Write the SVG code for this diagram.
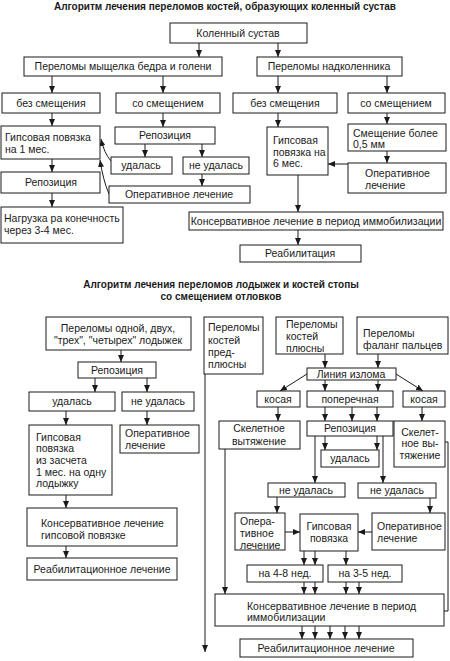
<svg xmlns="http://www.w3.org/2000/svg" width="450" height="661" viewBox="0 0 450 661">
<defs>
<marker id="ah" markerUnits="userSpaceOnUse" markerWidth="7" markerHeight="6" refX="7" refY="3" orient="auto"><path d="M0,0 L7,3 L0,6 z" fill="#1a1a1a"/></marker>
<style>
rect{fill:#fff;stroke:#1a1a1a;stroke-width:1}
text{font-family:"Liberation Sans",Arial,sans-serif;font-size:10.5px;fill:#1a1a1a}
.c{text-anchor:middle}
.t{font-weight:bold;font-size:10px;text-anchor:middle}
#conn line,#conn path{stroke:#1a1a1a;stroke-width:1;fill:none}
.a{marker-end:url(#ah)}
</style>
</defs>
<rect width="450" height="661" style="fill:#fff;stroke:none"/>
<text class="t" x="225" y="10">Алгоритм лечения переломов костей, образующих коленный сустав</text>
<text class="t" x="221" y="288">Алгоритм лечения переломов лодыжек и костей стопы</text>
<text class="t" x="221" y="300">со смещением отловков</text>

<g id="conn">
<line class="a" x1="199" y1="43" x2="199" y2="57"/>
<line class="a" x1="278" y1="43" x2="278" y2="57"/>
<line class="a" x1="52" y1="76" x2="52" y2="93"/>
<line class="a" x1="163" y1="76" x2="163" y2="93"/>
<line class="a" x1="278" y1="76" x2="278" y2="93"/>
<line class="a" x1="387" y1="76" x2="387" y2="93"/>
<line class="a" x1="52" y1="113" x2="52" y2="126"/>
<line class="a" x1="163" y1="113" x2="163" y2="127"/>
<line class="a" x1="278" y1="113" x2="278" y2="127"/>
<line class="a" x1="387" y1="113" x2="387" y2="124"/>
<line class="a" x1="145" y1="144" x2="145" y2="157"/>
<line class="a" x1="202" y1="144" x2="202" y2="157"/>
<line class="a" x1="202" y1="174" x2="202" y2="186"/>
<line class="a" x1="52" y1="159" x2="52" y2="172"/>
<line class="a" x1="52" y1="193" x2="52" y2="207"/>
<line class="a" x1="387" y1="151" x2="387" y2="163"/>
<line class="a" x1="348" y1="164" x2="328" y2="164"/>
<line class="a" x1="298" y1="175" x2="298" y2="212"/>
<line class="a" x1="298" y1="230" x2="298" y2="245"/>
<path class="a" d="M111,161 Q104,153 101,139"/>
<path class="a" d="M109,194 Q103,180 100,160"/>

<line class="a" x1="121" y1="350" x2="121" y2="362"/>
<line class="a" x1="95" y1="378" x2="95" y2="392"/>
<line class="a" x1="147" y1="378" x2="147" y2="392"/>
<line class="a" x1="66" y1="411" x2="66" y2="425"/>
<line class="a" x1="147" y1="411" x2="147" y2="425"/>
<line class="a" x1="66" y1="495" x2="66" y2="508"/>
<line class="a" x1="66" y1="546" x2="66" y2="558"/>

<line class="a" x1="205" y1="374" x2="205" y2="652"/>
<line class="a" x1="325" y1="354" x2="325" y2="368"/>
<line class="a" x1="378" y1="354" x2="378" y2="368"/>
<line class="a" x1="307" y1="374" x2="280" y2="391"/>
<line class="a" x1="396" y1="374" x2="423" y2="391"/>
<line class="a" x1="325" y1="380" x2="325" y2="391"/>
<line class="a" x1="378" y1="380" x2="378" y2="391"/>
<line class="a" x1="278" y1="407" x2="278" y2="421"/>
<line class="a" x1="325" y1="407" x2="325" y2="421"/>
<line class="a" x1="352" y1="407" x2="352" y2="421"/>
<line class="a" x1="377" y1="407" x2="377" y2="421"/>
<line class="a" x1="422" y1="407" x2="422" y2="421"/>
<line class="a" x1="325" y1="436" x2="325" y2="450"/>
<line class="a" x1="377" y1="436" x2="377" y2="450"/>
<line class="a" x1="315" y1="436" x2="315" y2="483"/>
<line class="a" x1="383" y1="436" x2="383" y2="483"/>
<line class="a" x1="277" y1="497" x2="277" y2="513"/>
<line class="a" x1="430" y1="498" x2="430" y2="513"/>
<line class="a" x1="285" y1="532" x2="300" y2="532"/>
<line class="a" x1="372" y1="532" x2="358" y2="532"/>
<line class="a" x1="304" y1="551" x2="304" y2="565"/>
<line class="a" x1="315" y1="551" x2="315" y2="565"/>
<line class="a" x1="346" y1="551" x2="346" y2="565"/>
<line class="a" x1="304" y1="582" x2="304" y2="594"/>
<line class="a" x1="315" y1="582" x2="315" y2="594"/>
<line class="a" x1="346" y1="582" x2="346" y2="594"/>
<line class="a" x1="359" y1="582" x2="359" y2="594"/>
<line class="a" x1="225" y1="449" x2="225" y2="594"/>
<path d="M445,442 H448 V611 H444"/>
<line class="a" x1="302" y1="626" x2="302" y2="639"/>
<line class="a" x1="315" y1="626" x2="315" y2="639"/>
<line class="a" x1="330" y1="626" x2="330" y2="639"/>
<line class="a" x1="345" y1="626" x2="345" y2="639"/>
<line class="a" x1="359" y1="626" x2="359" y2="639"/>
</g>

<g id="n1"><rect x="170" y="23" width="137" height="20"/><text class="c" x="238" y="37">Коленный сустав</text></g>
<g id="n2"><rect x="24" y="57" width="198" height="19"/><text class="c" x="123" y="70">Переломы мыщелка бедра и голени</text></g>
<g id="n3"><rect x="257" y="57" width="145" height="19"/><text class="c" x="329" y="70">Переломы надколенника</text></g>
<g id="n4"><rect x="2" y="93" width="98" height="20"/><text class="c" x="51" y="107">без смещения</text></g>
<g id="n5"><rect x="116" y="93" width="104" height="20"/><text class="c" x="168" y="107">со смещением</text></g>
<g id="n6"><rect x="233" y="93" width="104" height="20"/><text class="c" x="285" y="107">без смещения</text></g>
<g id="n7"><rect x="348" y="93" width="97" height="20"/><text class="c" x="396" y="107">со смещением</text></g>
<g id="n8"><rect x="1" y="126" width="99" height="33"/><text x="5" y="141">Гипсовая повязка</text><text x="5" y="153">на 1 мес.</text></g>
<g id="n9"><rect x="115" y="127" width="100" height="17"/><text class="c" x="165" y="139">Репозиция</text></g>
<g id="n10"><rect x="111" y="157" width="61" height="17"/><text class="c" x="141" y="169">удалась</text></g>
<g id="n11"><rect x="183" y="157" width="66" height="17"/><text class="c" x="216" y="169">не удалась</text></g>
<g id="n12"><rect x="109" y="186" width="141" height="17"/><text class="c" x="179" y="198">Оперативное лечение</text></g>
<g id="n13"><rect x="1" y="172" width="99" height="21"/><text class="c" x="51" y="186">Репозиция</text></g>
<g id="n14"><rect x="1" y="207" width="122" height="36"/><text x="4" y="222">Нагрузка ра конечность</text><text x="4" y="234">через 3-4 мес.</text></g>
<g id="n15"><rect x="267" y="127" width="61" height="48"/><text x="273" y="144">Гипсовая</text><text x="273" y="156">повязка на</text><text x="273" y="167">6 мес.</text></g>
<g id="n16"><rect x="348" y="124" width="98" height="27"/><text x="353" y="137">Смещение более</text><text x="353" y="148">0,5 мм</text></g>
<g id="n17"><rect x="348" y="163" width="98" height="30"/><text x="365" y="177">Оперативное</text><text x="365" y="189">лечение</text></g>
<g id="n18"><rect x="189" y="212" width="254" height="18"/><text class="c" x="316" y="225">Консервативное лечение в период иммобилизации</text></g>
<g id="n19"><rect x="240" y="245" width="121" height="17"/><text class="c" x="300" y="257">Реабилитация</text></g>

<g id="m1"><rect x="46" y="317" width="145" height="33"/><text class="c" x="118" y="332">Переломы одной, двух,</text><text class="c" x="118" y="344">"трех", "четырех" лодыжек</text></g>
<g id="m2"><rect x="78" y="362" width="78" height="16"/><text class="c" x="117" y="374">Репозиция</text></g>
<g id="m3"><rect x="29" y="392" width="86" height="19"/><text class="c" x="72" y="405">удалась</text></g>
<g id="m4"><rect x="122" y="392" width="72" height="19"/><text class="c" x="158" y="405">не удалась</text></g>
<g id="m5"><rect x="29" y="425" width="83" height="70"/><text x="36" y="441">Гипсовая</text><text x="36" y="452">повязка</text><text x="36" y="464">из засчета</text><text x="36" y="476">1 мес. на одну</text><text x="36" y="487">лодыжку</text></g>
<g id="m6"><rect x="120" y="425" width="79" height="28"/><text x="125" y="437">Оперативное</text><text x="125" y="449">лечение</text></g>
<g id="m7"><rect x="27" y="508" width="150" height="38"/><text x="41" y="527">Консервативное лечение</text><text x="41" y="539">гипсовой повязке</text></g>
<g id="m8"><rect x="27" y="558" width="150" height="22"/><text class="c" x="102" y="573">Реабилитационное лечение</text></g>

<g id="f1"><rect x="204" y="317" width="59" height="57"/><text x="208" y="331">Переломы</text><text x="208" y="344">костей</text><text x="208" y="356">пред-</text><text x="208" y="368">плюсны</text></g>
<g id="f2"><rect x="276" y="317" width="67" height="37"/><text x="286" y="328">Переломы</text><text x="286" y="340">костей</text><text x="286" y="352">плюсны</text></g>
<g id="f3"><rect x="357" y="317" width="91" height="37"/><text x="363" y="337">Переломы</text><text x="363" y="349">фаланг пальцев</text></g>
<g id="f4"><rect x="307" y="368" width="89" height="12"/><text class="c" x="351" y="378">Линия излома</text></g>
<g id="f5"><rect x="257" y="391" width="43" height="16"/><text class="c" x="278" y="403">косая</text></g>
<g id="f6"><rect x="307" y="391" width="86" height="16"/><text class="c" x="350" y="403">поперечная</text></g>
<g id="f7"><rect x="403" y="391" width="42" height="16"/><text class="c" x="424" y="403">косая</text></g>
<g id="f8"><rect x="219" y="421" width="81" height="28"/><text class="c" x="259" y="432">Скелетное</text><text class="c" x="259" y="445">вытяжение</text></g>
<g id="f9"><rect x="307" y="421" width="86" height="15"/><text class="c" x="350" y="432">Репозиция</text></g>
<g id="f10"><rect x="394" y="421" width="51" height="46"/><text class="c" x="420" y="436">Скелет-</text><text class="c" x="420" y="447">ное вы-</text><text class="c" x="420" y="459">тяжение</text></g>
<g id="f11"><rect x="321" y="450" width="58" height="17"/><text class="c" x="350" y="462">удалась</text></g>
<g id="f12"><rect x="268" y="483" width="77" height="14"/><text class="c" x="306" y="494">не удалась</text></g>
<g id="f13"><rect x="358" y="483" width="78" height="15"/><text class="c" x="397" y="494">не удалась</text></g>
<g id="f14"><rect x="235" y="513" width="50" height="37"/><text x="240" y="525">Опера-</text><text x="240" y="537">тивное</text><text x="240" y="549">лечение</text></g>
<g id="f15"><rect x="300" y="514" width="58" height="37"/><text class="c" x="329" y="530">Гипсовая</text><text class="c" x="329" y="542">повязка</text></g>
<g id="f16"><rect x="372" y="513" width="73" height="37"/><text x="377" y="530">Оперативное</text><text x="377" y="542">лечение</text></g>
<g id="f17"><rect x="247" y="565" width="76" height="17"/><text class="c" x="285" y="577">на 4-8 нед.</text></g>
<g id="f18"><rect x="328" y="565" width="74" height="17"/><text class="c" x="365" y="577">на 3-5 нед.</text></g>
<g id="f19"><rect x="215" y="594" width="229" height="32"/><text x="247" y="610">Консервативное лечение в период</text><text x="247" y="621">иммобилизации</text></g>
<g id="f20"><rect x="240" y="639" width="173" height="18"/><text class="c" x="326" y="652">Реабилитационное лечение</text></g>
</svg>
